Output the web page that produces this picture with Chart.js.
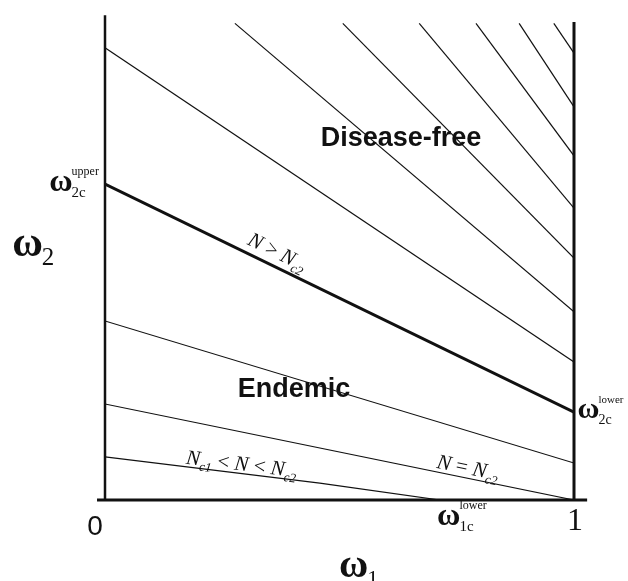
<!DOCTYPE html>
<html>
<head>
<meta charset="utf-8">
<script src="https://cdn.jsdelivr.net/npm/chart.js@4.4.1/dist/chart.umd.min.js"></script>
<style>
  html, body { margin: 0; background: #fff; }
  canvas { display: block; }
</style>
</head>
<body>
<canvas id="phaseChart" width="628" height="581"></canvas>
<script>
// level lines above the critical line (start on the left/top edge, end on the right axis)
const upperStartX = [0, 0.277, 0.507, 0.670, 0.791, 0.883, 0.957];
const upperStartY = [0.942, 0.993, 0.993, 0.993, 0.993, 0.993, 0.993];
const upperEndY = [0.2875, 0.392, 0.504, 0.608, 0.717, 0.819, 0.931];

// critical line N = Nc2 boundary (thick)
const criticalX = [0, 1];
const criticalY = [0.658, 0.183];

// level lines below the critical line
const lowerX = [[0, 1], [0, 1], [0, 0.458, 0.714]];
const lowerY = [[0.373, 0.077], [0.200, 0], [0.090, 0.035, 0]];

const ink = '#111';
const sans = '"Liberation Sans", Arial, sans-serif';
const serif = '"Liberation Serif", "Times New Roman", serif';

const pts = (xs, ys) => xs.map((x, i) => ({ x, y: ys[i] }));
const seg = (data, width, clip) => ({
  data, showLine: true, borderColor: ink, borderWidth: width,
  pointRadius: 0, fill: false, clip: clip === false ? false : undefined
});

const datasets = [];
upperStartX.forEach((x0, i) => datasets.push(seg([{ x: x0, y: upperStartY[i] }, { x: 1, y: upperEndY[i] }], 1.2)));
lowerX.forEach((xs, i) => datasets.push(seg(pts(xs, lowerY[i]), 1.2)));
datasets.push(seg(pts(criticalX, criticalY), 3));
// axes
datasets.push(seg([{ x: 0, y: 0 }, { x: 0, y: 1.01 }], 2.5, false));
datasets.push(seg([{ x: 1, y: 0 }, { x: 1, y: 0.996 }], 3, false));
datasets.push(seg([{ x: -0.017, y: 0 }, { x: 1.028, y: 0 }], 3, false));

// y on a polyline at x
function yAt(xs, ys, x) {
  for (let i = 1; i < xs.length; i++) {
    if (x <= xs[i]) return ys[i - 1] + (ys[i] - ys[i - 1]) * (x - xs[i - 1]) / (xs[i] - xs[i - 1]);
  }
  return ys[ys.length - 1];
}

function omega(ctx, X, Y, size, sub, sup, subScale) {
  ctx.textAlign = 'left';
  ctx.font = `bold ${size}px ${serif}`;
  ctx.fillText('ω', X, Y);
  const w = ctx.measureText('ω').width;
  if (sup) { ctx.font = `${Math.round(size * 0.38)}px ${serif}`; ctx.fillText(sup, X + w - 1, Y - size * 0.5); }
  if (sub) { ctx.font = `${Math.round(size * (subScale || 0.46))}px ${serif}`; ctx.fillText(sub, X + w - 1, Y + size * 0.2); }
}

function runText(ctx, parts, size) {
  let cx = 0;
  ctx.textAlign = 'left';
  for (const [t, kind] of parts) {
    const sub = kind === 'sub';
    ctx.font = `${kind === 'op' ? '' : 'italic '}${sub ? Math.round(size * 0.62) : size}px ${serif}`;
    ctx.fillText(t, cx, sub ? size * 0.25 : 0);
    cx += ctx.measureText(t).width;
  }
}

function onLine(ctx, sx, sy, xs, ys, x, parts, size, lift) {
  const a = Math.atan2(sy(ys[1]) - sy(ys[0]), sx(xs[1]) - sx(xs[0]));
  ctx.save();
  ctx.translate(sx(x), sy(yAt(xs, ys, x)));
  ctx.rotate(a);
  ctx.translate(0, -lift);
  runText(ctx, parts, size);
  ctx.restore();
}

const labels = {
  id: 'phaseLabels',
  afterDatasetsDraw(chart) {
    const { ctx, scales: { x, y } } = chart;
    const sx = v => x.getPixelForValue(v), sy = v => y.getPixelForValue(v);
    ctx.save();
    ctx.fillStyle = ink;
    ctx.textBaseline = 'alphabetic';

    ctx.textAlign = 'center';
    ctx.font = `bold 27px ${sans}`;
    ctx.fillText('Disease-free', sx(0.631), sy(0.7375));
    ctx.fillText('Endemic', sx(0.403), sy(0.2146));

    ctx.font = `28px ${sans}`;
    ctx.fillText('0', sx(-0.021), sy(-0.073));
    ctx.font = `32px ${serif}`;
    ctx.fillText('1', sx(1.002), sy(-0.0625));

    omega(ctx, sx(-0.198), sy(0.508), 42, '2', null, 0.6);
    omega(ctx, sx(0.499), sy(-0.160), 40, '1', null, 0.55);
    omega(ctx, sx(-0.119), sy(0.644), 32, '2c', 'upper');
    omega(ctx, sx(1.0075), sy(0.171), 30, '2c', 'lower');
    omega(ctx, sx(0.708), sy(-0.052), 32, '1c', 'lower');

    onLine(ctx, sx, sy, criticalX, criticalY, 0.294,
      [['N', 'i'], [' > ', 'op'], ['N', 'i'], ['c2', 'sub']], 21, 8);
    onLine(ctx, sx, sy, lowerX[2], lowerY[2], 0.171,
      [['N', 'i'], ['c1', 'sub'], [' < ', 'op'], ['N', 'i'], [' < ', 'op'], ['N', 'i'], ['c2', 'sub']], 21, 3);
    onLine(ctx, sx, sy, lowerX[1], lowerY[1], 0.704,
      [['N', 'i'], [' = ', 'op'], ['N', 'i'], ['c2', 'sub']], 21, 4);
    ctx.restore();
  }
};

new Chart(document.getElementById('phaseChart'), {
  type: 'scatter',
  data: { datasets },
  options: {
    responsive: false,
    animation: false,
    layout: { padding: { left: 105, right: 54, top: 20, bottom: 81 } },
    plugins: { legend: { display: false }, tooltip: { enabled: false } },
    scales: {
      x: { type: 'linear', min: 0, max: 1, display: false },
      y: { type: 'linear', min: 0, max: 1, display: false }
    }
  },
  plugins: [labels]
});
</script>
</body>
</html>
